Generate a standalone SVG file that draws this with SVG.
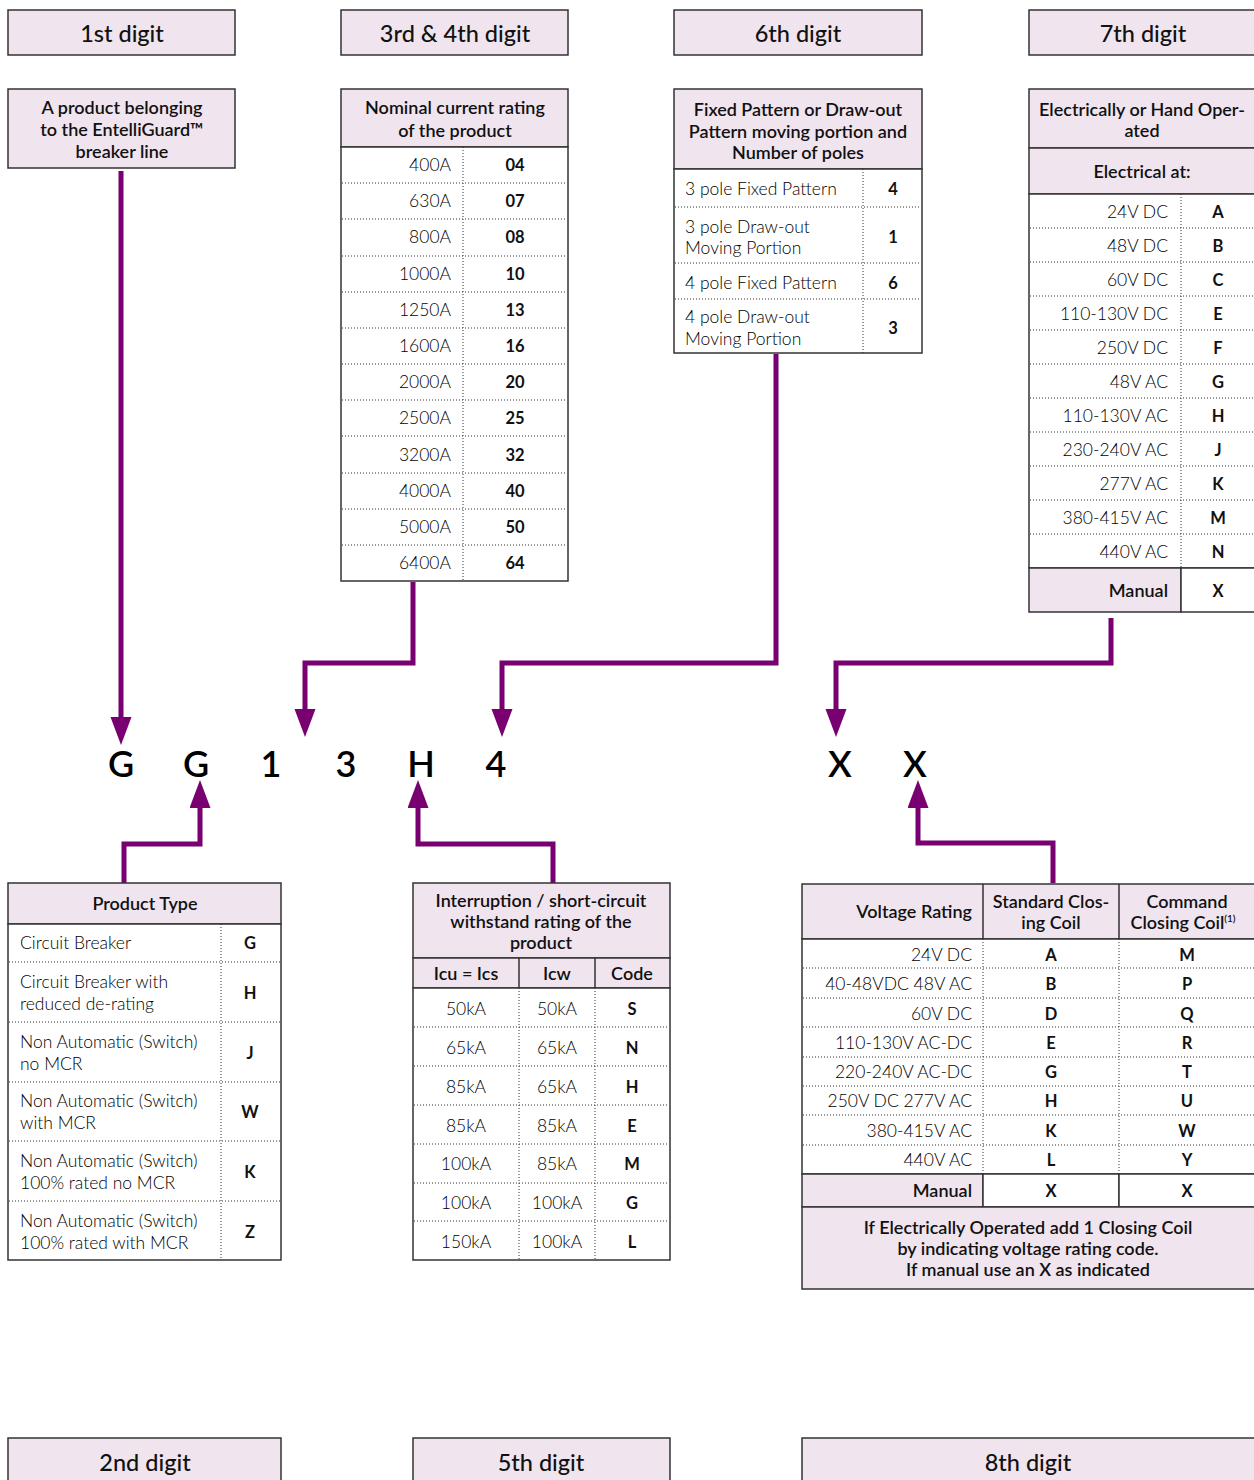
<svg xmlns="http://www.w3.org/2000/svg" width="1254" height="1480" viewBox="0 0 1254 1480">
  <defs>
    <style>
      .pink { fill: #f0e4ef; stroke: #333; stroke-width: 1.5; }
      .white { fill: #ffffff; stroke: #333; stroke-width: 1.5; }
      .rule { stroke: #333; stroke-width: 1.5; }
      .dot { stroke: #333; stroke-width: 1; stroke-dasharray: 1 2; }
      text { font-family: Lato, "Liberation Sans", sans-serif; fill: #111; }
      .h1 { font-size: 23.5px; font-weight: 500; text-anchor: middle; }
      .th { font-size: 18px; font-weight: 600; text-anchor: middle; }
      .thr { font-size: 18px; font-weight: 600; text-anchor: end; }
      .td { font-size: 17.5px; font-weight: 300; fill: #000; }
      .tdr { font-size: 17.5px; font-weight: 300; text-anchor: end; fill: #000; }
      .tdc { font-size: 17.5px; font-weight: 300; text-anchor: middle; fill: #000; }
      .code { font-size: 16.5px; font-weight: 700; text-anchor: middle; }
      .big { font-size: 36px; font-weight: 600; text-anchor: middle; fill: #000; }
      .wire { fill: none; stroke: #780070; stroke-width: 5; stroke-linejoin: miter; }
    </style>
    <marker id="head" markerUnits="userSpaceOnUse" markerWidth="28" markerHeight="22" refX="0" refY="10.5" orient="auto">
      <path d="M0,0 L28,10.5 L0,21 z" fill="#780070"/>
    </marker>
  </defs>

  <rect width="1254" height="1480" fill="#ffffff"/>

  <!-- digit headers, top row -->
  <g id="hdr-digit1">
    <rect class="pink" x="8" y="10" width="227" height="45"/>
    <text class="h1" x="122" y="42">1st digit</text>
  </g>
  <g id="hdr-digit34">
    <rect class="pink" x="341" y="10" width="227" height="45"/>
    <text class="h1" x="455" y="42">3rd &amp; 4th digit</text>
  </g>
  <g id="hdr-digit6">
    <rect class="pink" x="674" y="10" width="248" height="45"/>
    <text class="h1" x="798" y="42">6th digit</text>
  </g>
  <g id="hdr-digit7">
    <rect class="pink" x="1029" y="10" width="240" height="45"/>
    <text class="h1" x="1143" y="42">7th digit</text>
  </g>

  <!-- 1st digit: product line -->
  <g id="product-line">
    <rect class="pink" x="8" y="89" width="227" height="79"/>
    <text class="th" x="122" y="114">A product belonging</text>
    <text class="th" x="122" y="136">to the EntelliGuard™</text>
    <text class="th" x="122" y="158">breaker line</text>
  </g>

  <!-- 3rd & 4th digit: nominal current -->
  <g id="current-rating">
    <rect class="pink" x="341" y="89" width="227" height="58"/>
    <text class="th" x="455" y="114">Nominal current rating</text>
    <text class="th" x="455" y="137">of the product</text>
    <rect class="white" x="341" y="147" width="227" height="434"/>
    <line class="dot" x1="463" y1="147" x2="463" y2="581"/>
    <g class="rows">
      <line class="dot" x1="342" y1="183" x2="567" y2="183"/>
      <line class="dot" x1="342" y1="219" x2="567" y2="219"/>
      <line class="dot" x1="342" y1="256" x2="567" y2="256"/>
      <line class="dot" x1="342" y1="292" x2="567" y2="292"/>
      <line class="dot" x1="342" y1="328" x2="567" y2="328"/>
      <line class="dot" x1="342" y1="364" x2="567" y2="364"/>
      <line class="dot" x1="342" y1="400" x2="567" y2="400"/>
      <line class="dot" x1="342" y1="436" x2="567" y2="436"/>
      <line class="dot" x1="342" y1="473" x2="567" y2="473"/>
      <line class="dot" x1="342" y1="509" x2="567" y2="509"/>
      <line class="dot" x1="342" y1="545" x2="567" y2="545"/>
    </g>
    <text class="tdr" x="451" y="171">400A</text><text class="code" x="515" y="171">04</text>
    <text class="tdr" x="451" y="207">630A</text><text class="code" x="515" y="207">07</text>
    <text class="tdr" x="451" y="243">800A</text><text class="code" x="515" y="243">08</text>
    <text class="tdr" x="451" y="280">1000A</text><text class="code" x="515" y="280">10</text>
    <text class="tdr" x="451" y="316">1250A</text><text class="code" x="515" y="316">13</text>
    <text class="tdr" x="451" y="352">1600A</text><text class="code" x="515" y="352">16</text>
    <text class="tdr" x="451" y="388">2000A</text><text class="code" x="515" y="388">20</text>
    <text class="tdr" x="451" y="424">2500A</text><text class="code" x="515" y="424">25</text>
    <text class="tdr" x="451" y="461">3200A</text><text class="code" x="515" y="461">32</text>
    <text class="tdr" x="451" y="497">4000A</text><text class="code" x="515" y="497">40</text>
    <text class="tdr" x="451" y="533">5000A</text><text class="code" x="515" y="533">50</text>
    <text class="tdr" x="451" y="569">6400A</text><text class="code" x="515" y="569">64</text>
  </g>

  <!-- 6th digit: pattern and poles -->
  <g id="pattern-poles">
    <rect class="pink" x="674" y="89" width="248" height="80"/>
    <text class="th" x="798" y="116">Fixed Pattern or Draw-out</text>
    <text class="th" x="798" y="138">Pattern moving portion and</text>
    <text class="th" x="798" y="159">Number of poles</text>
    <rect class="white" x="674" y="169" width="248" height="184"/>
    <line class="dot" x1="863" y1="169" x2="863" y2="353"/>
    <line class="dot" x1="675" y1="207" x2="921" y2="207"/>
    <line class="dot" x1="675" y1="263" x2="921" y2="263"/>
    <line class="dot" x1="675" y1="299" x2="921" y2="299"/>
    <text class="td" x="685" y="195">3 pole Fixed Pattern</text><text class="code" x="893" y="195">4</text>
    <text class="td" x="685" y="233">3 pole Draw-out</text>
    <text class="td" x="685" y="254">Moving Portion</text><text class="code" x="893" y="243">1</text>
    <text class="td" x="685" y="289">4 pole Fixed Pattern</text><text class="code" x="893" y="289">6</text>
    <text class="td" x="685" y="323">4 pole Draw-out</text>
    <text class="td" x="685" y="345">Moving Portion</text><text class="code" x="893" y="334">3</text>
  </g>

  <!-- 7th digit: operation -->
  <g id="operation">
    <rect class="pink" x="1029" y="89" width="240" height="59"/>
    <text class="th" x="1142" y="116">Electrically or Hand Oper-</text>
    <text class="th" x="1142" y="137">ated</text>
    <rect class="pink" x="1029" y="148" width="240" height="46"/>
    <text class="th" x="1142" y="178">Electrical at:</text>
    <rect class="white" x="1029" y="194" width="240" height="374"/>
    <line class="dot" x1="1181" y1="194" x2="1181" y2="568"/>
    <line class="dot" x1="1030" y1="228" x2="1254" y2="228"/>
    <line class="dot" x1="1030" y1="262" x2="1254" y2="262"/>
    <line class="dot" x1="1030" y1="296" x2="1254" y2="296"/>
    <line class="dot" x1="1030" y1="330" x2="1254" y2="330"/>
    <line class="dot" x1="1030" y1="364" x2="1254" y2="364"/>
    <line class="dot" x1="1030" y1="398" x2="1254" y2="398"/>
    <line class="dot" x1="1030" y1="432" x2="1254" y2="432"/>
    <line class="dot" x1="1030" y1="466" x2="1254" y2="466"/>
    <line class="dot" x1="1030" y1="500" x2="1254" y2="500"/>
    <line class="dot" x1="1030" y1="534" x2="1254" y2="534"/>
    <text class="tdr" x="1168" y="218">24V DC</text><text class="code" x="1218" y="218">A</text>
    <text class="tdr" x="1168" y="252">48V DC</text><text class="code" x="1218" y="252">B</text>
    <text class="tdr" x="1168" y="286">60V DC</text><text class="code" x="1218" y="286">C</text>
    <text class="tdr" x="1168" y="320">110-130V DC</text><text class="code" x="1218" y="320">E</text>
    <text class="tdr" x="1168" y="354">250V DC</text><text class="code" x="1218" y="354">F</text>
    <text class="tdr" x="1168" y="388">48V AC</text><text class="code" x="1218" y="388">G</text>
    <text class="tdr" x="1168" y="422">110-130V AC</text><text class="code" x="1218" y="422">H</text>
    <text class="tdr" x="1168" y="456">230-240V AC</text><text class="code" x="1218" y="456">J</text>
    <text class="tdr" x="1168" y="490">277V AC</text><text class="code" x="1218" y="490">K</text>
    <text class="tdr" x="1168" y="524">380-415V AC</text><text class="code" x="1218" y="524">M</text>
    <text class="tdr" x="1168" y="558">440V AC</text><text class="code" x="1218" y="558">N</text>
    <rect class="pink" x="1029" y="568" width="152" height="44"/>
    <rect class="white" x="1181" y="568" width="88" height="44"/>
    <text class="thr" x="1168" y="597">Manual</text><text class="code" x="1218" y="597">X</text>
  </g>

  <!-- catalogue number -->
  <g id="catalogue-number">
    <text class="big" x="121" y="777">G</text>
    <text class="big" x="196" y="777">G</text>
    <text class="big" x="271" y="777">1</text>
    <text class="big" x="346" y="777">3</text>
    <text class="big" x="421" y="777">H</text>
    <text class="big" x="496" y="777">4</text>
    <text class="big" x="840" y="777">X</text>
    <text class="big" x="915" y="777">X</text>
  </g>

  <!-- connectors -->
  <g id="connectors">
    <path class="wire" marker-end="url(#head)" d="M121,171 V717"/>
    <path class="wire" marker-end="url(#head)" d="M413,582 V663 H305 V709"/>
    <path class="wire" marker-end="url(#head)" d="M776,354 V663 H502 V709"/>
    <path class="wire" marker-end="url(#head)" d="M1111,618 V663 H836 V709"/>
    <path class="wire" marker-end="url(#head)" d="M124,883 V844 H200 V808"/>
    <path class="wire" marker-end="url(#head)" d="M553,883 V844 H418 V808"/>
    <path class="wire" marker-end="url(#head)" d="M1053,883 V843 H918 V808"/>
  </g>

  <!-- 2nd digit: product type -->
  <g id="product-type">
    <rect class="pink" x="8" y="883" width="273" height="41"/>
    <text class="th" x="145" y="910">Product Type</text>
    <rect class="white" x="8" y="924" width="273" height="336"/>
    <line class="dot" x1="221" y1="924" x2="221" y2="1260"/>
    <line class="dot" x1="9" y1="962" x2="280" y2="962"/>
    <line class="dot" x1="9" y1="1022" x2="280" y2="1022"/>
    <line class="dot" x1="9" y1="1082" x2="280" y2="1082"/>
    <line class="dot" x1="9" y1="1141" x2="280" y2="1141"/>
    <line class="dot" x1="9" y1="1201" x2="280" y2="1201"/>
    <text class="td" x="20" y="949">Circuit Breaker</text><text class="code" x="250" y="949">G</text>
    <text class="td" x="20" y="988">Circuit Breaker with</text>
    <text class="td" x="20" y="1010">reduced de-rating</text><text class="code" x="250" y="999">H</text>
    <text class="td" x="20" y="1048">Non Automatic (Switch)</text>
    <text class="td" x="20" y="1070">no MCR</text><text class="code" x="250" y="1059">J</text>
    <text class="td" x="20" y="1107">Non Automatic (Switch)</text>
    <text class="td" x="20" y="1129">with MCR</text><text class="code" x="250" y="1118">W</text>
    <text class="td" x="20" y="1167">Non Automatic (Switch)</text>
    <text class="td" x="20" y="1189">100% rated no MCR</text><text class="code" x="250" y="1178">K</text>
    <text class="td" x="20" y="1227">Non Automatic (Switch)</text>
    <text class="td" x="20" y="1249">100% rated with MCR</text><text class="code" x="250" y="1238">Z</text>
  </g>

  <!-- 5th digit: interruption rating -->
  <g id="interruption-rating">
    <rect class="pink" x="413" y="883" width="257" height="75"/>
    <text class="th" x="541" y="907">Interruption / short-circuit</text>
    <text class="th" x="541" y="928">withstand rating of the</text>
    <text class="th" x="541" y="949">product</text>
    <rect class="pink" x="413" y="958" width="257" height="30"/>
    <line class="rule" x1="519" y1="958" x2="519" y2="988"/>
    <line class="rule" x1="595" y1="958" x2="595" y2="988"/>
    <text class="th" x="466" y="980">Icu = Ics</text>
    <text class="th" x="557" y="980">Icw</text>
    <text class="th" x="632" y="980">Code</text>
    <rect class="white" x="413" y="988" width="257" height="272"/>
    <line class="dot" x1="519" y1="988" x2="519" y2="1260"/>
    <line class="dot" x1="595" y1="988" x2="595" y2="1260"/>
    <line class="dot" x1="414" y1="1027" x2="669" y2="1027"/>
    <line class="dot" x1="414" y1="1066" x2="669" y2="1066"/>
    <line class="dot" x1="414" y1="1105" x2="669" y2="1105"/>
    <line class="dot" x1="414" y1="1144" x2="669" y2="1144"/>
    <line class="dot" x1="414" y1="1183" x2="669" y2="1183"/>
    <line class="dot" x1="414" y1="1221" x2="669" y2="1221"/>
    <text class="tdc" x="466" y="1015">50kA</text><text class="tdc" x="557" y="1015">50kA</text><text class="code" x="632" y="1015">S</text>
    <text class="tdc" x="466" y="1054">65kA</text><text class="tdc" x="557" y="1054">65kA</text><text class="code" x="632" y="1054">N</text>
    <text class="tdc" x="466" y="1093">85kA</text><text class="tdc" x="557" y="1093">65kA</text><text class="code" x="632" y="1093">H</text>
    <text class="tdc" x="466" y="1132">85kA</text><text class="tdc" x="557" y="1132">85kA</text><text class="code" x="632" y="1132">E</text>
    <text class="tdc" x="466" y="1170">100kA</text><text class="tdc" x="557" y="1170">85kA</text><text class="code" x="632" y="1170">M</text>
    <text class="tdc" x="466" y="1209">100kA</text><text class="tdc" x="557" y="1209">100kA</text><text class="code" x="632" y="1209">G</text>
    <text class="tdc" x="466" y="1248">150kA</text><text class="tdc" x="557" y="1248">100kA</text><text class="code" x="632" y="1248">L</text>
  </g>

  <!-- 8th digit: closing coil -->
  <g id="closing-coil">
    <rect class="pink" x="802" y="884" width="467" height="55"/>
    <line class="rule" x1="983" y1="884" x2="983" y2="939"/>
    <line class="rule" x1="1119" y1="884" x2="1119" y2="939"/>
    <text class="thr" x="972" y="918">Voltage Rating</text>
    <text class="th" x="1051" y="908">Standard Clos-</text>
    <text class="th" x="1051" y="929">ing Coil</text>
    <text class="th" x="1187" y="908">Command</text>
    <text class="th" x="1183" y="929">Closing Coil<tspan font-size="10" dy="-7">(1)</tspan></text>
    <rect class="white" x="802" y="939" width="467" height="235"/>
    <line class="dot" x1="983" y1="939" x2="983" y2="1174"/>
    <line class="dot" x1="1119" y1="939" x2="1119" y2="1174"/>
    <line class="dot" x1="803" y1="968" x2="1254" y2="968"/>
    <line class="dot" x1="803" y1="998" x2="1254" y2="998"/>
    <line class="dot" x1="803" y1="1027" x2="1254" y2="1027"/>
    <line class="dot" x1="803" y1="1057" x2="1254" y2="1057"/>
    <line class="dot" x1="803" y1="1086" x2="1254" y2="1086"/>
    <line class="dot" x1="803" y1="1115" x2="1254" y2="1115"/>
    <line class="dot" x1="803" y1="1145" x2="1254" y2="1145"/>
    <text class="tdr" x="972" y="961">24V DC</text><text class="code" x="1051" y="961">A</text><text class="code" x="1187" y="961">M</text>
    <text class="tdr" x="972" y="990">40-48VDC 48V AC</text><text class="code" x="1051" y="990">B</text><text class="code" x="1187" y="990">P</text>
    <text class="tdr" x="972" y="1020">60V DC</text><text class="code" x="1051" y="1020">D</text><text class="code" x="1187" y="1020">Q</text>
    <text class="tdr" x="972" y="1049">110-130V AC-DC</text><text class="code" x="1051" y="1049">E</text><text class="code" x="1187" y="1049">R</text>
    <text class="tdr" x="972" y="1078">220-240V AC-DC</text><text class="code" x="1051" y="1078">G</text><text class="code" x="1187" y="1078">T</text>
    <text class="tdr" x="972" y="1107">250V DC 277V AC</text><text class="code" x="1051" y="1107">H</text><text class="code" x="1187" y="1107">U</text>
    <text class="tdr" x="972" y="1137">380-415V AC</text><text class="code" x="1051" y="1137">K</text><text class="code" x="1187" y="1137">W</text>
    <text class="tdr" x="972" y="1166">440V AC</text><text class="code" x="1051" y="1166">L</text><text class="code" x="1187" y="1166">Y</text>
    <rect class="pink" x="802" y="1174" width="181" height="33"/>
    <rect class="white" x="983" y="1174" width="136" height="33"/>
    <rect class="white" x="1119" y="1174" width="150" height="33"/>
    <text class="thr" x="972" y="1197">Manual</text><text class="code" x="1051" y="1197">X</text><text class="code" x="1187" y="1197">X</text>
    <rect class="pink" x="802" y="1207" width="467" height="82"/>
    <text class="th" x="1028" y="1234">If Electrically Operated add 1 Closing Coil</text>
    <text class="th" x="1028" y="1255">by indicating voltage rating code.</text>
    <text class="th" x="1028" y="1276">If manual use an X as indicated</text>
  </g>

  <!-- digit headers, bottom row -->
  <g id="hdr-digit2">
    <rect class="pink" x="8" y="1438" width="273" height="50"/>
    <text class="h1" x="145" y="1471">2nd digit</text>
  </g>
  <g id="hdr-digit5">
    <rect class="pink" x="413" y="1438" width="257" height="50"/>
    <text class="h1" x="541" y="1471">5th digit</text>
  </g>
  <g id="hdr-digit8">
    <rect class="pink" x="802" y="1438" width="467" height="50"/>
    <text class="h1" x="1028" y="1471">8th digit</text>
  </g>
</svg>
